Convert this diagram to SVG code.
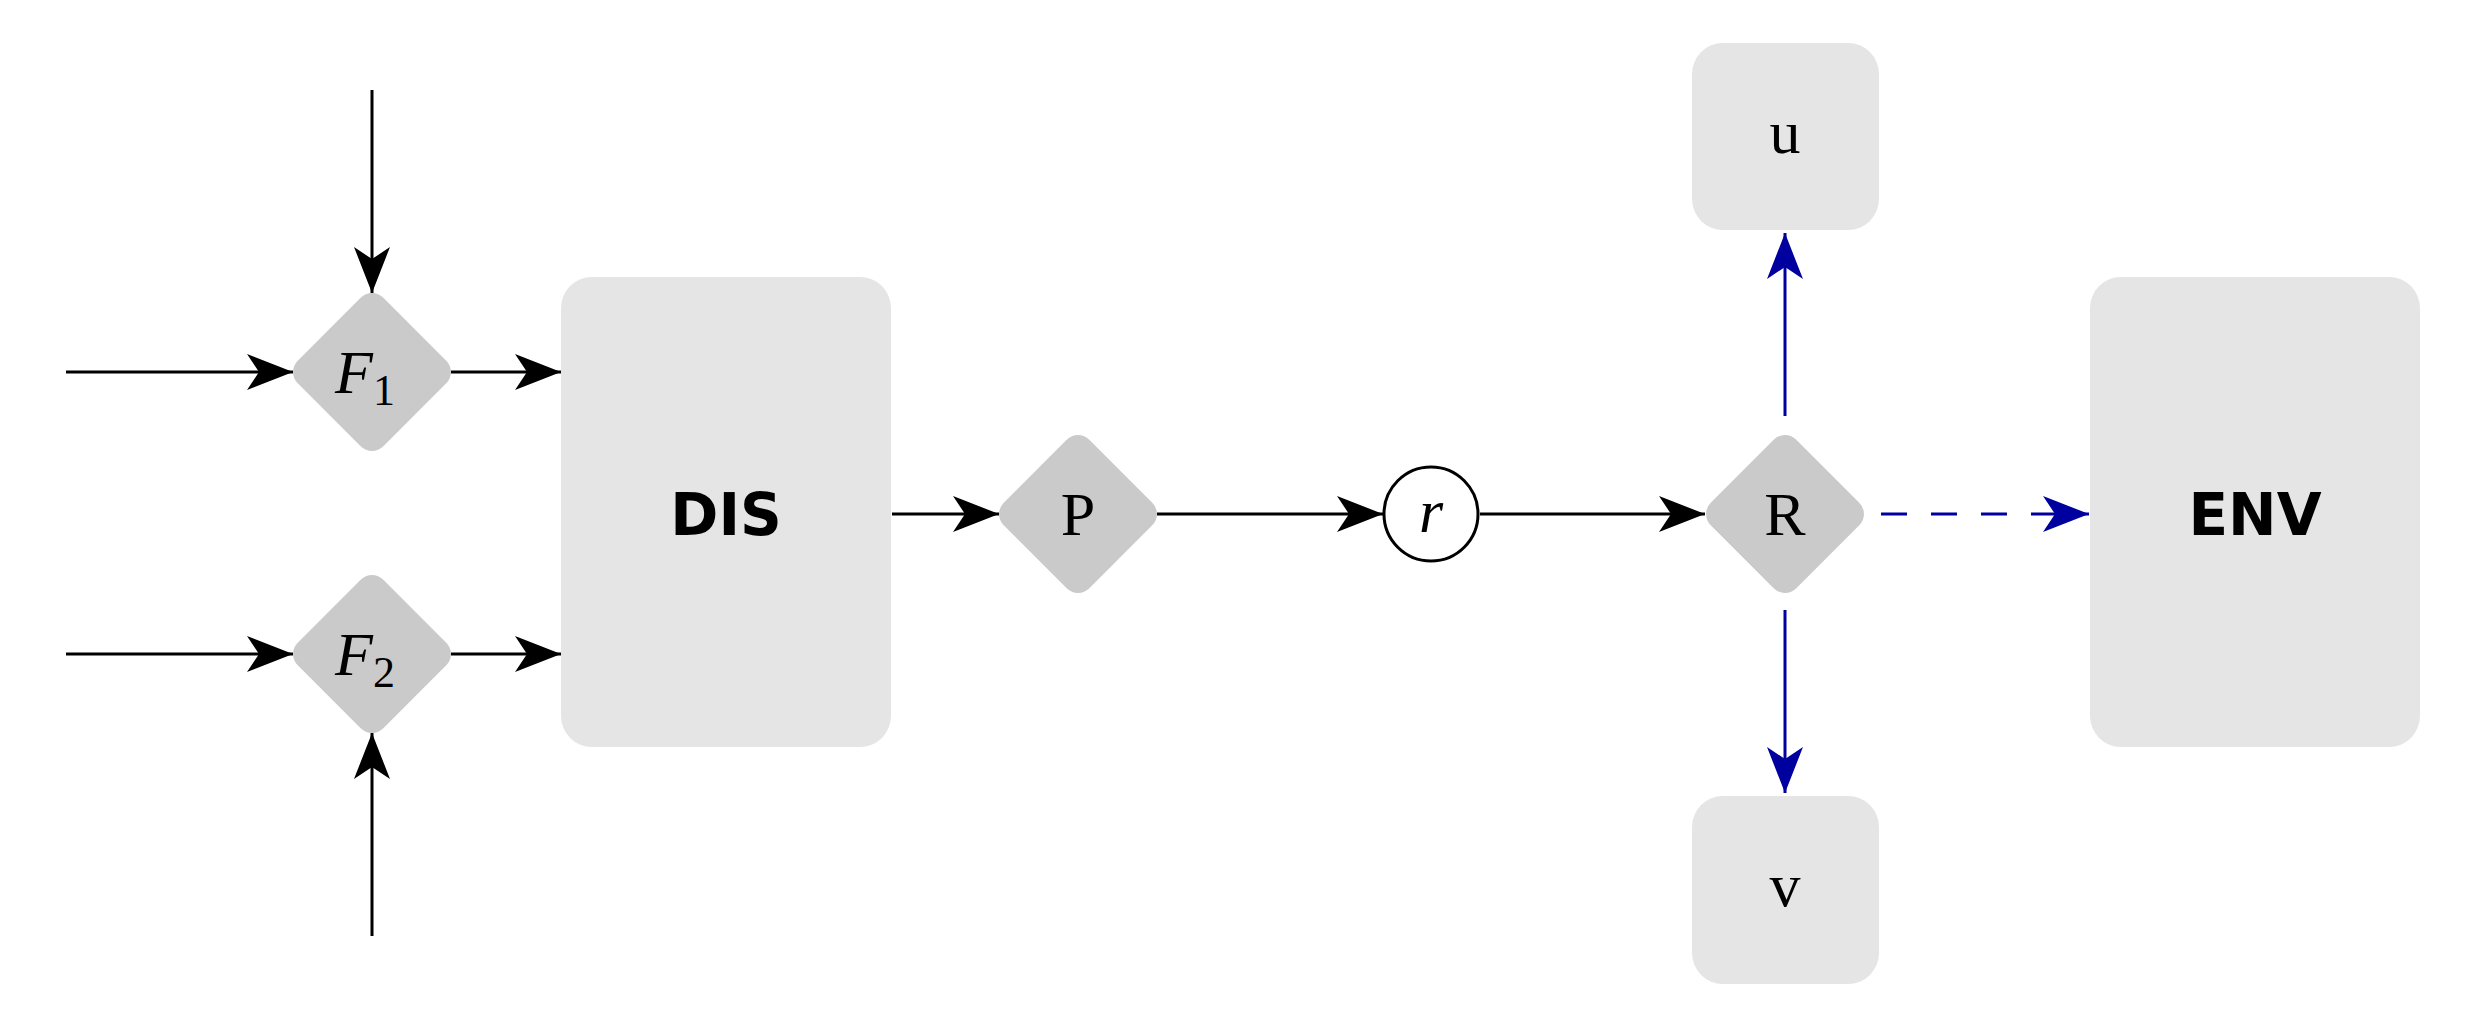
<svg xmlns="http://www.w3.org/2000/svg" width="2472" height="1036" viewBox="0 0 2472 1036">
<defs>
<style>
.box{fill:#e5e5e5}
.dia{fill:#cacaca}
.k{stroke:#000;stroke-width:3;fill:none}
.b{stroke:#00009f;stroke-width:3;fill:none}
.serif{font-family:"Liberation Serif","DejaVu Serif",serif;font-size:62px;fill:#000;text-anchor:middle}
.sans{font-family:"DejaVu Sans","Liberation Sans",sans-serif;font-weight:bold;font-size:58px;fill:#000;text-anchor:middle}
</style>
<marker id="ak" markerUnits="userSpaceOnUse" markerWidth="50" markerHeight="40" viewBox="-48 -20 50 40" refX="0" refY="0" orient="auto"><path d="M0,0 L-46,-18 L-34,0 L-46,18 Z" fill="#000"/></marker>
<marker id="ab" markerUnits="userSpaceOnUse" markerWidth="50" markerHeight="40" viewBox="-48 -20 50 40" refX="0" refY="0" orient="auto"><path d="M0,0 L-46,-18 L-34,0 L-46,18 Z" fill="#00009f"/></marker>
</defs>
<rect width="2472" height="1036" fill="#fff"/>
<g id="connectors">
<line class="k" x1="372" y1="90" x2="372" y2="293" marker-end="url(#ak)"/>
<line class="k" x1="372" y1="936" x2="372" y2="733" marker-end="url(#ak)"/>
<line class="k" x1="66" y1="372" x2="293" y2="372" marker-end="url(#ak)"/>
<line class="k" x1="66" y1="654" x2="293" y2="654" marker-end="url(#ak)"/>
<line class="k" x1="451" y1="372" x2="561" y2="372" marker-end="url(#ak)"/>
<line class="k" x1="451" y1="654" x2="561" y2="654" marker-end="url(#ak)"/>
<line class="k" x1="892" y1="514" x2="999" y2="514" marker-end="url(#ak)"/>
<line class="k" x1="1157" y1="514" x2="1383" y2="514" marker-end="url(#ak)"/>
<line class="k" x1="1480" y1="514" x2="1705" y2="514" marker-end="url(#ak)"/>
<line class="b" x1="1785" y1="416" x2="1785" y2="233" marker-end="url(#ab)"/>
<line class="b" x1="1785" y1="610" x2="1785" y2="793" marker-end="url(#ab)"/>
<line class="b" x1="1881" y1="514" x2="2089" y2="514" stroke-dasharray="26,24" marker-end="url(#ab)"/>
</g>
<g id="F1"><rect class="dia" x="311.5" y="311.5" width="121" height="121" rx="16" transform="rotate(45 372 372)"/><text class="serif" x="365" y="393" font-style="italic">F<tspan font-style="normal" font-size="44" dy="12">1</tspan></text></g>
<g id="F2"><rect class="dia" x="311.5" y="593.5" width="121" height="121" rx="16" transform="rotate(45 372 654)"/><text class="serif" x="365" y="675" font-style="italic">F<tspan font-style="normal" font-size="44" dy="12">2</tspan></text></g>
<g id="DIS"><rect class="box" x="561" y="277" width="330" height="470" rx="31"/><text class="sans" x="726" y="535">DIS</text></g>
<g id="P"><rect class="dia" x="1017.5" y="453.5" width="121" height="121" rx="16" transform="rotate(45 1078 514)"/><text class="serif" x="1078" y="535">P</text></g>
<g id="r"><circle cx="1431" cy="514" r="47" fill="#fff" stroke="#000" stroke-width="3"/><text class="serif" x="1431" y="532" font-style="italic">r</text></g>
<g id="R"><rect class="dia" x="1724.5" y="453.5" width="121" height="121" rx="16" transform="rotate(45 1785 514)"/><text class="serif" x="1785" y="535">R</text></g>
<g id="u"><rect class="box" x="1692" y="43" width="187" height="187" rx="31"/><text class="serif" x="1785" y="153">u</text></g>
<g id="v"><rect class="box" x="1692" y="796" width="187" height="188" rx="31"/><text class="serif" x="1785" y="906">v</text></g>
<g id="ENV"><rect class="box" x="2090" y="277" width="330" height="470" rx="31"/><text class="sans" x="2255" y="535">ENV</text></g>
</svg>
